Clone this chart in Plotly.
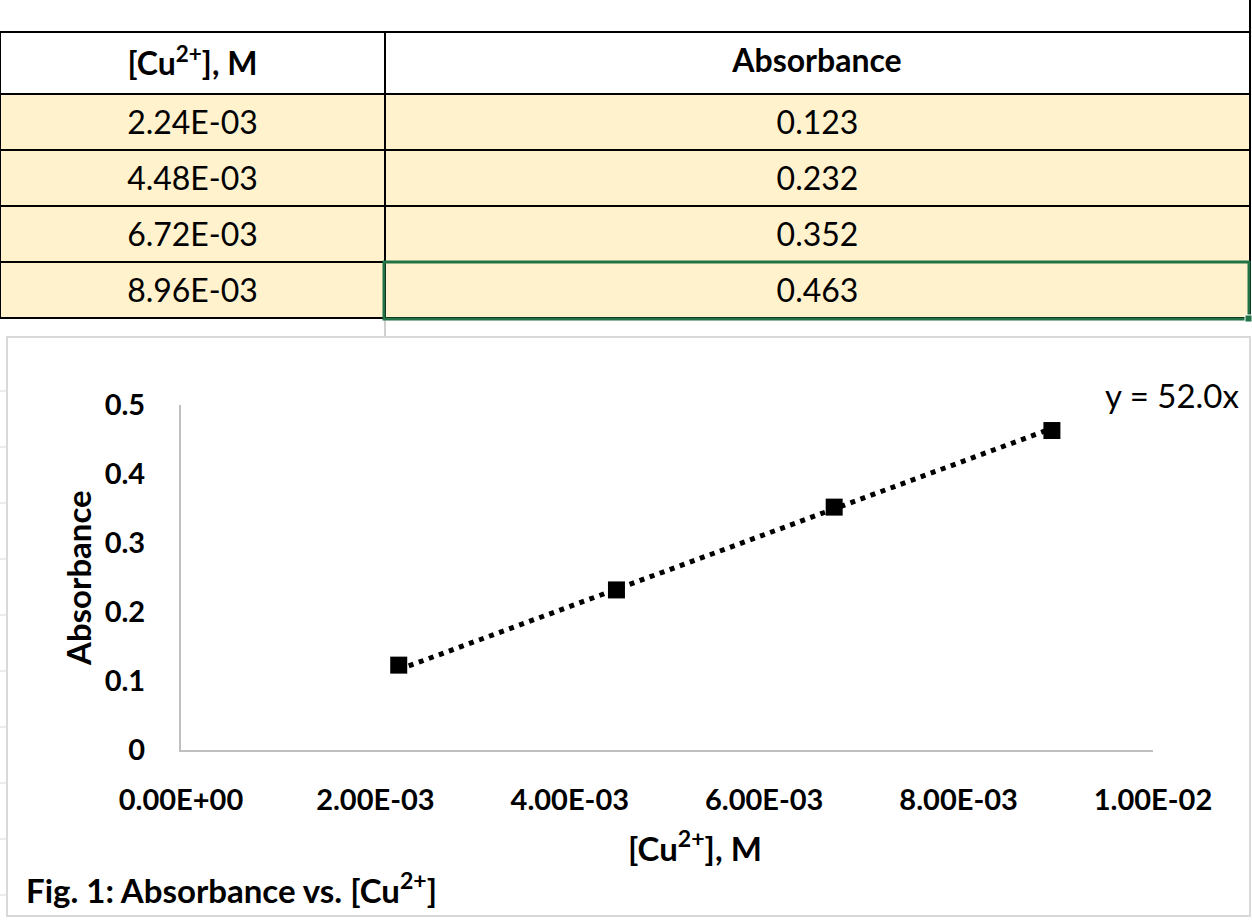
import numpy as np
import plotly.graph_objects as go

# ---------------- data ----------------
cu_conc = [2.24e-3, 4.48e-3, 6.72e-3, 8.96e-3]
absorbance = [0.123, 0.232, 0.352, 0.463]
table_headers = ["[Cu<sup>2+</sup>], M", "Absorbance"]
x_tick_vals = [0.0, 0.002, 0.004, 0.006, 0.008, 0.010]
x_tick_text = ["0.00E+00", "2.00E-03", "4.00E-03", "6.00E-03", "8.00E-03", "1.00E-02"]
y_tick_vals = [0, 0.1, 0.2, 0.3, 0.4, 0.5]
y_tick_text = ["0", "0.1", "0.2", "0.3", "0.4", "0.5"]
x_title = "[Cu<sup>2+</sup>], M"
y_title = "Absorbance"
caption = "Fig. 1: Absorbance vs. [Cu<sup>2+</sup>]"

# ---------------- layout helpers ----------------
W, H = 1252, 921
FONT = "Lato, 'Open Sans', sans-serif"


def px(x):
    return x / W


def py(y):
    return 1 - y / H


def rich(s):
    # wrapping in a span makes the table place the text by its box (lower in the cell)
    return s if "<" in s else f"<span>{s}</span>"


x_arr = np.array(cu_conc)
y_arr = np.array(absorbance)
slope = float(np.dot(x_arr, y_arr) / np.dot(x_arr, x_arr))  # linear fit through origin
trend_x = [x_arr.min(), x_arr.max()]
trend_y = [slope * v for v in trend_x]

fig = go.Figure()

# ---------------- spreadsheet table ----------------
fig.add_trace(go.Table(
    domain=dict(x=[0, px(1250)], y=[py(322), py(32)]),
    columnwidth=[385, 865],
    header=dict(
        values=[rich(h) for h in table_headers],
        fill_color="white",
        line=dict(color="black", width=2),
        align="center",
        height=62,
        font=dict(family=FONT, size=32, color="black", weight="bold"),
    ),
    cells=dict(
        values=[[rich(f"{v:.2E}") for v in cu_conc],
                [rich(f"{v:.3f}") for v in absorbance]],
        fill_color="#fff2cc",
        line=dict(color="black", width=2),
        align="center",
        height=56,
        font=dict(family=FONT, size=32, color="black"),
    ),
))

# ---------------- chart ----------------
fig.add_trace(go.Scatter(
    x=trend_x, y=trend_y, mode="lines",
    line=dict(color="black", width=5, dash="5px,5.7px"),
    showlegend=False, hoverinfo="skip",
))
fig.add_trace(go.Scatter(
    x=cu_conc, y=absorbance, mode="markers",
    marker=dict(symbol="square", size=17, color="black"),
    showlegend=False,
))

shapes = []
# chart area border
shapes.append(dict(type="rect", xref="paper", yref="paper",
                   x0=px(7), x1=px(1250), y0=py(916), y1=py(337),
                   line=dict(color="#d9d9d9", width=2), fillcolor="white", layer="below"))
# spreadsheet gridlines outside chart
shapes.append(dict(type="line", xref="paper", yref="paper",
                   x0=px(385), x1=px(385), y0=py(320), y1=py(336),
                   line=dict(color="#d0d0d0", width=2)))
shapes.append(dict(type="line", xref="paper", yref="paper",
                   x0=px(1250), x1=px(1250), y0=py(0), y1=py(33),
                   line=dict(color="black", width=2)))
for gy in [391, 447, 503, 559, 615, 671, 727, 783, 839, 895]:
    shapes.append(dict(type="line", xref="paper", yref="paper",
                       x0=0, x1=px(6), y0=py(gy), y1=py(gy),
                       line=dict(color="#d9d9d9", width=1)))
# selected cell
shapes.append(dict(type="rect", xref="paper", yref="paper",
                   x0=px(384), x1=px(1249), y0=py(319), y1=py(262),
                   line=dict(color="#217346", width=3)))
shapes.append(dict(type="rect", xref="paper", yref="paper",
                   x0=px(1245), x1=px(1252), y0=py(322), y1=py(315),
                   line=dict(color="white", width=1), fillcolor="#217346"))

annotations = [
    dict(text=f"y = {slope:.1f}x", xref="paper", yref="paper",
         x=px(1241), y=py(395), xanchor="right", yanchor="middle", showarrow=False,
         font=dict(family=FONT, size=33, color="black")),
    dict(text=y_title, xref="paper", yref="paper", textangle=-90,
         x=px(78), y=py(578), xanchor="center", yanchor="middle", showarrow=False,
         font=dict(family=FONT, size=33, color="black", weight="bold")),
    dict(text=x_title, xref="paper", yref="paper",
         x=px(695), y=py(846), xanchor="center", yanchor="middle", showarrow=False,
         font=dict(family=FONT, size=33, color="black", weight="bold")),
    dict(text=caption, xref="paper", yref="paper",
         x=px(24), y=py(888), xanchor="left", yanchor="middle", showarrow=False,
         font=dict(family=FONT, size=33, color="black", weight="bold")),
]

fig.update_layout(
    width=W, height=H,
    autosize=False,
    margin=dict(l=0, r=0, t=0, b=0, pad=0, autoexpand=False),
    paper_bgcolor="white", plot_bgcolor="rgba(0,0,0,0)",
    showlegend=False,
    shapes=shapes,
    annotations=annotations,
    xaxis=dict(
        domain=[px(181), px(1153)], range=[0, 0.01],
        tickvals=x_tick_vals, ticktext=x_tick_text,
        showgrid=False, zeroline=False, showline=True,
        linecolor="#bfbfbf", linewidth=2, ticks="",
        ticklabelstandoff=23, automargin=False,
        tickfont=dict(family=FONT, size=29, color="black", weight="bold"),
        anchor="y",
    ),
    yaxis=dict(
        domain=[py(750), py(405)], range=[0, 0.5],
        tickvals=y_tick_vals, ticktext=y_tick_text,
        showgrid=False, zeroline=False, showline=True,
        linecolor="#bfbfbf", linewidth=2, ticks="",
        ticklabelstandoff=28, automargin=False,
        tickfont=dict(family=FONT, size=29, color="black", weight="bold"),
        anchor="x",
    ),
)

fig.write_html("out.html", config={"displayModeBar": False},
               post_script="document.body.style.margin='0';")
